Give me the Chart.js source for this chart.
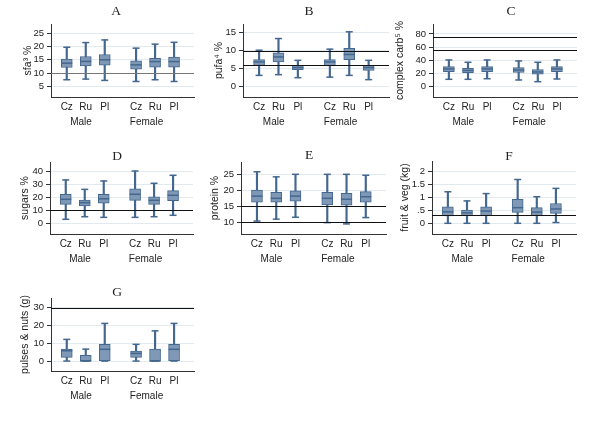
<!DOCTYPE html>
<html>
<head>
<meta charset="utf-8">
<script src="https://cdn.jsdelivr.net/npm/chart.js@4"></script>
<style>
  body { margin: 0; background: #fff; width: 600px; height: 439px; position: relative; overflow: hidden; }
  canvas { position: absolute; }
  .ttl { position: absolute; font-family: "Liberation Serif", "Times New Roman", serif; font-size: 13.5px; color: #222; transform: translate(-50%, -50%); }
</style>
</head>
<body>
<script>
const countries = ['Cz', 'Ru', 'Pl'];
const sexes = ['Male', 'Female'];

// box stats [low whisker, q1, median, q3, high whisker]
// order: Male Cz, Ru, Pl, Female Cz, Ru, Pl
const sfa = [[7.5, 12.1, 13.75, 15.25, 19.75], [7.75, 12.75, 14.4, 16.25, 21.5], [7.25, 13, 15, 17, 22.5],
             [6.85, 11.5, 13.1, 14.6, 19.4], [7.5, 12.25, 14.35, 15.6, 20.9], [6.85, 12.25, 14.35, 16, 21.6]];
const pufa = [[3, 5.8, 6.8, 7.45, 10.1], [3.2, 6.8, 8.2, 9.35, 13.4], [2.35, 4.6, 5.2, 5.8, 7.25],
              [2.5, 5.7, 6.8, 7.45, 10.4], [3, 7.45, 8.9, 10.6, 15.3], [1.8, 4.4, 5.2, 5.8, 7.25]];
const carb = [[11.2, 22.8, 26.9, 30.3, 40.5], [11.2, 21.2, 24.6, 27.9, 37], [12.1, 22.8, 26.9, 30.3, 40.5],
              [10.2, 21.8, 25.3, 28.8, 39], [7.6, 18.8, 22.3, 25.8, 37], [11.7, 22.8, 26.9, 30.3, 40.5]];
const sugars = [[3.1, 14.7, 18.6, 22.5, 33.6], [5.1, 13.4, 16, 18, 26.3], [4.6, 15.5, 19, 22.5, 32.8],
                [4.6, 17.8, 22.5, 26.8, 40.5], [5.1, 14.7, 17.8, 20.6, 31], [6.2, 17.5, 21.7, 25.3, 37.2]];
const protein = [[10.3, 16.3, 18.2, 20.1, 25.9], [10.9, 16.3, 17.5, 19.4, 24.3], [11.5, 16.6, 18.2, 19.9, 25.1],
                 [9.8, 15.4, 17.5, 19.4, 25.1], [9.4, 15.3, 17.2, 19.1, 25.1], [11.4, 16.3, 18, 19.6, 24.8]];
const fruitVeg = [[0, 0.28, 0.44, 0.63, 1.21], [0, 0.29, 0.4, 0.51, 0.86], [0, 0.29, 0.47, 0.63, 1.14],
                  [0, 0.42, 0.6, 0.92, 1.68], [0, 0.3, 0.43, 0.6, 1.02], [0.03, 0.38, 0.55, 0.76, 1.34]];
const pulses = [[0, 2.1, 5.8, 6.7, 12.2], [0, 0, 0, 3.2, 6.7], [0, 0, 6.6, 9.4, 21.2],
                [0, 2.1, 4.3, 5.6, 9.4], [0, 0, 0, 6.7, 17], [0, 0, 6.6, 9.4, 21.2]];

// recommended limits (horizontal lines)
const sfaRef = [10], pufaRef = [10, 6], carbRef = [75, 55], sugarsRef = [10];
const proteinRef = [15, 10], fruitVegRef = [0.3], pulsesRef = [30];

// y tick values and labels
const sfaTicks = [5, 10, 15, 20, 25];
const pufaTicks = [0, 5, 10, 15];
const carbTicks = [0, 20, 40, 60, 80];
const sugarsTicks = [0, 10, 20, 30, 40];
const proteinTicks = [10, 15, 20, 25];
const fruitVegTicks = [0, 0.5, 1, 1.5, 2];
const fruitVegTickText = ['0', '.5', '1', '1.5', '2'];
const pulsesTicks = [0, 10, 20, 30];

// x layout of the boxes and group labels (axis units)
const slots = [1, 2, 3, 4.65, 5.65, 6.65];
const sexAt = [1.75, 5.2];

const fill = '#7f98b5';
const edge = '#44678f';
const font = '"Liberation Sans", Arial, sans-serif';

const panels = [
  { title: 'A', yLabel: 'sfa³ %', stats: sfa, refs: sfaRef, ticks: sfaTicks, yMin: 1, yMax: 28.5,
    cell: [0, 0, 195, 140], area: [51, 24, 194, 97], tpad: 21.5, tx: 116, ty: 11, refColor: '#777' },
  { title: 'B', yLabel: 'pufa⁴ %', stats: pufa, refs: pufaRef, ticks: pufaTicks, yMin: -3.1, yMax: 17.5,
    cell: [195, 0, 195, 140], area: [243, 24, 389, 97], tpad: 17.5, tx: 309, ty: 11 },
  { title: 'C', yLabel: 'complex carb⁵ %', stats: carb, refs: carbRef, ticks: carbTicks, yMin: -15.6, yMax: 95,
    cell: [390, 0, 210, 140], area: [433, 24, 577, 97], tpad: 3.5, tx: 511, ty: 11 },
  { title: 'D', yLabel: 'sugars %', stats: sugars, refs: sugarsRef, ticks: sugarsTicks, yMin: -8.3, yMax: 47.5,
    cell: [0, 140, 195, 140], area: [50, 162, 193, 234], tpad: 18.5, tx: 117, ty: 156 },
  { title: 'E', yLabel: 'protein %', stats: protein, refs: proteinRef, ticks: proteinTicks, yMin: 6.2, yMax: 29,
    cell: [195, 140, 195, 140], area: [241, 162, 386, 234], tpad: 13.5, tx: 309, ty: 155 },
  { title: 'F', yLabel: 'fruit & veg (kg)', stats: fruitVeg, refs: fruitVegRef, ticks: fruitVegTicks,
    tickText: fruitVegTickText, yMin: -0.41, yMax: 2.39,
    cell: [390, 140, 210, 140], area: [432, 161, 576, 234], tpad: 8.5, tx: 509, ty: 156 },
  { title: 'G', yLabel: 'pulses & nuts (g)', stats: pulses, refs: pulsesRef, ticks: pulsesTicks, yMin: -5.6, yMax: 35.5,
    cell: [0, 280, 195, 159], area: [51, 298, 194, 371], tpad: 18.5, tx: 117, ty: 292 }
];

const refLines = {
  id: 'refLines',
  afterDatasetsDraw(chart, args, opts) {
    const { ctx, chartArea: a, scales: { y } } = chart;
    ctx.save();
    ctx.strokeStyle = opts.color;
    ctx.lineWidth = 1.2;
    opts.values.forEach(v => {
      const py = Math.round(y.getPixelForValue(v)) + 0.5;
      ctx.beginPath();
      ctx.moveTo(a.left, py);
      ctx.lineTo(a.right, py);
      ctx.stroke();
    });
    ctx.restore();
  }
};

panels.forEach(p => {
  const [cx, cy, cw, ch] = p.cell;
  const [L, T, R, B] = p.area;

  const cv = document.createElement('canvas');
  cv.width = cw; cv.height = ch;
  cv.style.left = cx + 'px'; cv.style.top = cy + 'px';
  document.body.appendChild(cv);

  const t = document.createElement('div');
  t.className = 'ttl';
  t.textContent = p.title;
  t.style.left = p.tx + 'px'; t.style.top = p.ty + 'px';
  document.body.appendChild(t);

  const tickText = p.tickText || p.ticks.map(String);

  new Chart(cv, {
    type: 'bar',
    data: {
      datasets: [
        { // whiskers
          type: 'bar', grouped: false, order: 4,
          data: p.stats.map((s, i) => ({ x: slots[i], y: [s[0], s[4]] })),
          barThickness: 1.5, maxBarThickness: 1.5, backgroundColor: edge
        },
        { // boxes
          type: 'bar', grouped: false, order: 3,
          data: p.stats.map((s, i) => ({ x: slots[i], y: [s[1], s[3]] })),
          barThickness: 11, maxBarThickness: 11, backgroundColor: fill,
          borderColor: edge, borderWidth: 1, borderSkipped: false
        },
        { // caps
          type: 'scatter', order: 2,
          data: p.stats.flatMap((s, i) => [{ x: slots[i], y: s[0] }, { x: slots[i], y: s[4] }]),
          pointStyle: 'line', radius: 3.5, borderColor: edge, borderWidth: 1.5
        },
        { // medians
          type: 'scatter', order: 1,
          data: p.stats.map((s, i) => ({ x: slots[i], y: s[2] })),
          pointStyle: 'line', radius: 5.5, borderColor: edge, borderWidth: 1.5
        }
      ]
    },
    options: {
      responsive: false,
      animation: false,
      events: [],
      layout: { autoPadding: false, padding: { left: 0, top: T - cy, right: cx + cw - R, bottom: 0 } },
      plugins: {
        legend: { display: false },
        tooltip: { enabled: false },
        refLines: { values: p.refs, color: p.refColor || '#111' }
      },
      scales: {
        x: {
          type: 'linear', min: 0.17, max: 7.7, offset: false,
          afterBuildTicks: s => { s.ticks = slots.concat(sexAt).map(v => ({ value: v })); },
          afterFit: s => { s.height = cy + ch - B; s.paddingLeft = 0; s.paddingRight = 0; },
          grid: { display: false, drawTicks: false, offset: false },
          border: { color: '#333', width: 1 },
          ticks: {
            autoSkip: false, maxRotation: 0, padding: 3, color: '#222',
            font: { family: font, size: 10, lineHeight: 1.5 },
            callback: (v, i) => i < 6 ? countries[i % 3] : ['', sexes[i - 6]]
          }
        },
        y: {
          min: p.yMin, max: p.yMax,
          afterBuildTicks: s => { s.ticks = p.ticks.map(v => ({ value: v })); },
          afterFit: s => { s.width = L - cx; s.paddingTop = 0; s.paddingBottom = 0; },
          grid: { color: '#e2eaf0', tickColor: '#333', tickLength: 4 },
          border: { color: '#333', width: 1 },
          ticks: {
            padding: 3, color: '#222', font: { family: font, size: 9.5 },
            callback: (v, i) => tickText[i]
          },
          title: {
            display: true, text: p.yLabel, color: '#222',
            font: { family: font, size: 10.5 }, padding: { top: p.tpad, bottom: 0 }
          }
        }
      }
    },
    plugins: [refLines]
  });
});
</script>
</body>
</html>
